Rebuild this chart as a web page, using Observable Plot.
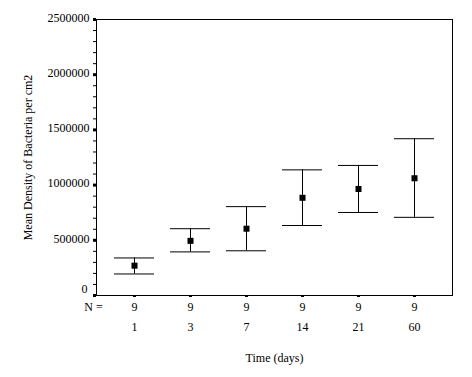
<!DOCTYPE html>
<html><head><meta charset="utf-8">
<script src="https://cdn.jsdelivr.net/npm/d3@7"></script>
<script src="https://cdn.jsdelivr.net/npm/@observablehq/plot@0.6"></script>
<style>body{margin:0;background:#fff} svg{display:block}</style>
</head><body><div id="chart"></div>
<script>
const days = ["1", "3", "7", "14", "21", "60"];
const means = [270000, 495000, 605000, 885000, 965000, 1062000];
const upper = [340000, 605000, 805000, 1138000, 1178000, 1420000];
const lower = [195000, 395000, 405000, 634000, 752000, 708000];
const counts = [9, 9, 9, 9, 9, 9];
const yMajorTicks = [0, 500000, 1000000, 1500000, 2000000, 2500000];
const yMinorTicks = d3.range(0, 2500001, 100000).filter(v => v % 500000 !== 0);
const yLabel = "Mean Density of Bacteria per cm2";
const xLabel = "Time (days)";
const nLabel = "N =";

const rows = days.map((d, i) => ({day: d, mean: means[i], lo: lower[i], hi: upper[i], n: counts[i]}));
const nByDay = new Map(days.map((d, i) => [d, counts[i]]));

const chart = Plot.plot({
  width: 472, height: 377,
  marginLeft: 96, marginRight: 20, marginTop: 19, marginBottom: 82,
  style: {fontFamily: "'Liberation Serif', 'Times New Roman', serif", fontSize: "12px", background: "#fff", color: "#000", overflow: "visible"},
  x: {type: "band", domain: days, paddingInner: 0.29, paddingOuter: 0.31, axis: null},
  y: {domain: [0, 2500000], axis: null},
  marks: [
    Plot.frame({stroke: "#000"}),
    Plot.axisY(yMinorTicks, {tickSize: 3, text: null, label: null}),
    Plot.axisY(yMajorTicks, {tickSize: 3, strokeWidth: 3, text: null, label: null}),
    Plot.axisY(yMajorTicks.filter(d => d !== 0), {tickSize: 0, tickPadding: 7, dy: -1.5, tickFormat: d => String(d), label: null}),
    Plot.axisY([0], {tickSize: 0, tickPadding: 9, dy: -6.5, tickFormat: d => String(d), label: null}),
    Plot.axisX({tickSize: 2, strokeWidth: 3, text: null, label: null}),
    Plot.axisX({tickSize: 0, tickPadding: 7, tickFormat: d => String(nByDay.get(d)), label: null}),
    Plot.axisX({tickSize: 0, tickPadding: 27, label: null}),
    Plot.text([nLabel], {frameAnchor: "bottom-left", dx: -3, dy: 7, lineAnchor: "top", textAnchor: "middle", fill: "#000"}),
    Plot.text([xLabel], {frameAnchor: "bottom", dy: 57.5, lineAnchor: "top", textAnchor: "middle", fill: "#000"}),
    Plot.text([yLabel], {frameAnchor: "left", rotate: -90, dx: -68.5, lineAnchor: "middle", textAnchor: "middle", fill: "#000"}),
    Plot.ruleX(rows, {x: "day", y1: "lo", y2: "hi", stroke: "#000"}),
    Plot.tickY(rows, {x: "day", y: "hi", stroke: "#000"}),
    Plot.tickY(rows, {x: "day", y: "lo", stroke: "#000"}),
    Plot.dot(rows, {x: "day", y: "mean", symbol: "square", r: 3.4, fill: "#000", stroke: "none"})
  ]
});
document.getElementById("chart").appendChild(chart);
</script>
</body></html>
